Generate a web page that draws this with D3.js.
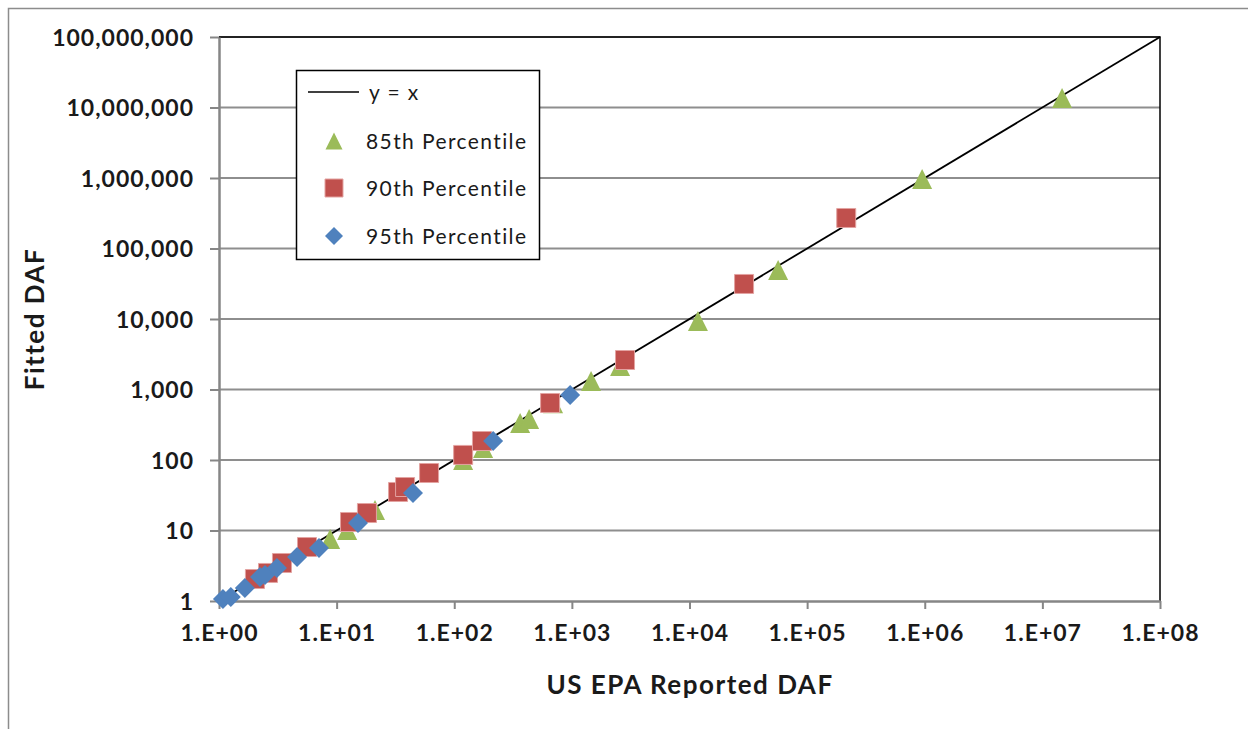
<!DOCTYPE html>
<html>
<head>
<meta charset="utf-8">
<script src="https://cdn.jsdelivr.net/npm/d3@7"></script>
<style>
  html, body { margin: 0; padding: 0; background: #fff; }
  svg { display: block; }
  text { font-family: Lato, "Open Sans", sans-serif; fill: #1a1a1a; }
</style>
</head>
<body>
<svg id="chart" width="1248" height="729"></svg>
<script>
// ---- Data (US EPA Reported DAF vs. Fitted DAF) ----
const p85x = [8.8, 12.3, 21.2, 119, 176, 363, 433, 692, 1456, 2570, 11800, 56700, 950000, 14700000];
const p85y = [7.6, 10.2, 19.5, 100, 148, 335, 382, 640, 1320, 2150, 9400, 49500, 970000, 13600000];

const p90x = [2.02, 2.61, 3.43, 5.6, 13.0, 18.1, 33.3, 38.2, 61.1, 119, 172, 653, 2830, 29100, 215000];
const p90y = [2.05, 2.5, 3.46, 5.83, 13.2, 17.7, 35.2, 41.4, 65.4, 118, 186, 644, 2620, 31400, 271000];

const p95x = [1.08, 1.26, 1.66, 2.23, 2.46, 3.11, 4.61, 7.08, 15.2, 44.6, 214, 966];
const p95y = [1.07, 1.14, 1.53, 2.19, 2.34, 2.94, 4.21, 5.65, 12.8, 34.0, 186, 836];

const lineXY = [1, 100000000];

const xTickValues = [1e0, 1e1, 1e2, 1e3, 1e4, 1e5, 1e6, 1e7, 1e8];
const xTickLabels = ["1.E+00", "1.E+01", "1.E+02", "1.E+03", "1.E+04", "1.E+05", "1.E+06", "1.E+07", "1.E+08"];
const yTickValues = [1e0, 1e1, 1e2, 1e3, 1e4, 1e5, 1e6, 1e7, 1e8];
const yTickLabels = ["1", "10", "100", "1,000", "10,000", "100,000", "1,000,000", "10,000,000", "100,000,000"];

const seriesNames = ["y = x", "85th Percentile", "90th Percentile", "95th Percentile"];
const seriesColors = ["#000000", "#9BBB59", "#C0504D", "#4F81BD"];

// ---- Layout ----
const svg = d3.select("#chart");
const L = 219, R = 1160, T = 37, B = 601;

const x = d3.scaleLog().domain([1, 1e8]).range([L, R]);
const y = d3.scaleLog().domain([1, 1e8]).range([B, T]);

// outer chart frame (clipped at right/bottom)
svg.append("path")
  .attr("d", `M8.5,729 L8.5,8.5 L1248,8.5`)
  .attr("fill", "none").attr("stroke", "#8c8c8c").attr("stroke-width", 1.5);

// horizontal gridlines
svg.append("g").selectAll("line").data(yTickValues.slice(1)).join("line")
  .attr("x1", L).attr("x2", R)
  .attr("y1", d => y(d)).attr("y2", d => y(d))
  .attr("stroke", "#8e8e8e").attr("stroke-width", 2);

// plot border top/right (black)
svg.append("path")
  .attr("d", `M${L},${T} L${R},${T} L${R},${B}`)
  .attr("fill", "none").attr("stroke", "#000").attr("stroke-width", 1.5);

// axes
const xAxis = d3.axisBottom(x).tickValues(xTickValues)
  .tickFormat((d, i) => xTickLabels[i]).tickSize(8).tickSizeOuter(0).tickPadding(16);
const yAxis = d3.axisLeft(y).tickValues(yTickValues)
  .tickFormat((d, i) => yTickLabels[i]).tickSize(9).tickSizeOuter(0).tickPadding(17);

const gx = svg.append("g").attr("transform", `translate(0,${B})`).call(xAxis);
const gy = svg.append("g").attr("transform", `translate(${L},0)`).call(yAxis);
[gx, gy].forEach(g => {
  g.select(".domain").attr("stroke", "#868686").attr("stroke-width", 2.5);
  g.selectAll(".tick line").attr("stroke", "#868686").attr("stroke-width", 2);
  g.selectAll(".tick text")
    .attr("font-family", "Lato, sans-serif").attr("font-weight", "bold")
    .attr("font-size", 23).attr("letter-spacing", 1).attr("fill", "#1a1a1a");
});
gy.selectAll(".tick text").attr("dy", "0.36em").attr("dx", 1);

// axis titles
svg.append("text").attr("x", 690).attr("y", 694)
  .attr("text-anchor", "middle").attr("font-weight", "bold").attr("font-size", 26)
  .attr("letter-spacing", 1.5)
  .text("US EPA Reported DAF");
svg.append("text").attr("transform", `translate(44,${(T + B) / 2}) rotate(-90)`)
  .attr("text-anchor", "middle").attr("font-weight", "bold").attr("font-size", 26)
  .attr("letter-spacing", 1.5)
  .text("Fitted DAF");

// y = x line
svg.append("line")
  .attr("x1", x(lineXY[0])).attr("y1", y(lineXY[0]))
  .attr("x2", x(lineXY[1])).attr("y2", y(lineXY[1]))
  .attr("stroke", "#000").attr("stroke-width", 1.8);

// marker shapes (centered on bounding box)
const triPath = (s) => `M0,${-s/2} L${s/2},${s/2} L${-s/2},${s/2} Z`;
const sqPath = (s) => `M${-s/2},${-s/2} h${s} v${s} h${-s} Z`;
const diaPath = (s) => `M0,${-s/2} L${s/2},0 L0,${s/2} L${-s/2},0 Z`;

function drawSeries(xs, ys, pathFn, size, fill, stroke) {
  svg.append("g").selectAll("path").data(xs.map((v, i) => [v, ys[i]])).join("path")
    .attr("transform", d => `translate(${x(d[0])},${y(d[1])})`)
    .attr("d", pathFn(size))
    .attr("fill", fill)
    .attr("stroke", stroke).attr("stroke-width", 1);
}
drawSeries(p85x, p85y, triPath, 20, seriesColors[1], "none");
drawSeries(p90x, p90y, sqPath, 19, seriesColors[2], "#E3A3A1");
drawSeries(p95x, p95y, diaPath, 20, seriesColors[3], "none");

// legend
const lg = svg.append("g");
lg.append("rect").attr("x", 296.5).attr("y", 70.5).attr("width", 243).attr("height", 189)
  .attr("fill", "#fff").attr("stroke", "#000").attr("stroke-width", 1.5);
const legendRows = [92, 141, 188, 236];
lg.append("line").attr("x1", 308).attr("x2", 359).attr("y1", legendRows[0]).attr("y2", legendRows[0])
  .attr("stroke", "#000").attr("stroke-width", 1.5);
lg.append("path").attr("transform", `translate(334,${legendRows[1]})`).attr("d", triPath(17)).attr("fill", seriesColors[1]);
lg.append("path").attr("transform", `translate(334,${legendRows[2]})`).attr("d", sqPath(18)).attr("fill", seriesColors[2]).attr("stroke", "#E3A3A1");
lg.append("path").attr("transform", `translate(334,${legendRows[3]})`).attr("d", diaPath(18)).attr("fill", seriesColors[3]);
lg.selectAll("text.leg").data(seriesNames).join("text").attr("class", "leg")
  .attr("x", (d, i) => i === 0 ? 369 : 366)
  .attr("y", (d, i) => legendRows[i])
  .attr("dy", "0.36em")
  .attr("font-size", 21).attr("letter-spacing", 1.4)
  .text(d => d);
</script>
</body>
</html>
